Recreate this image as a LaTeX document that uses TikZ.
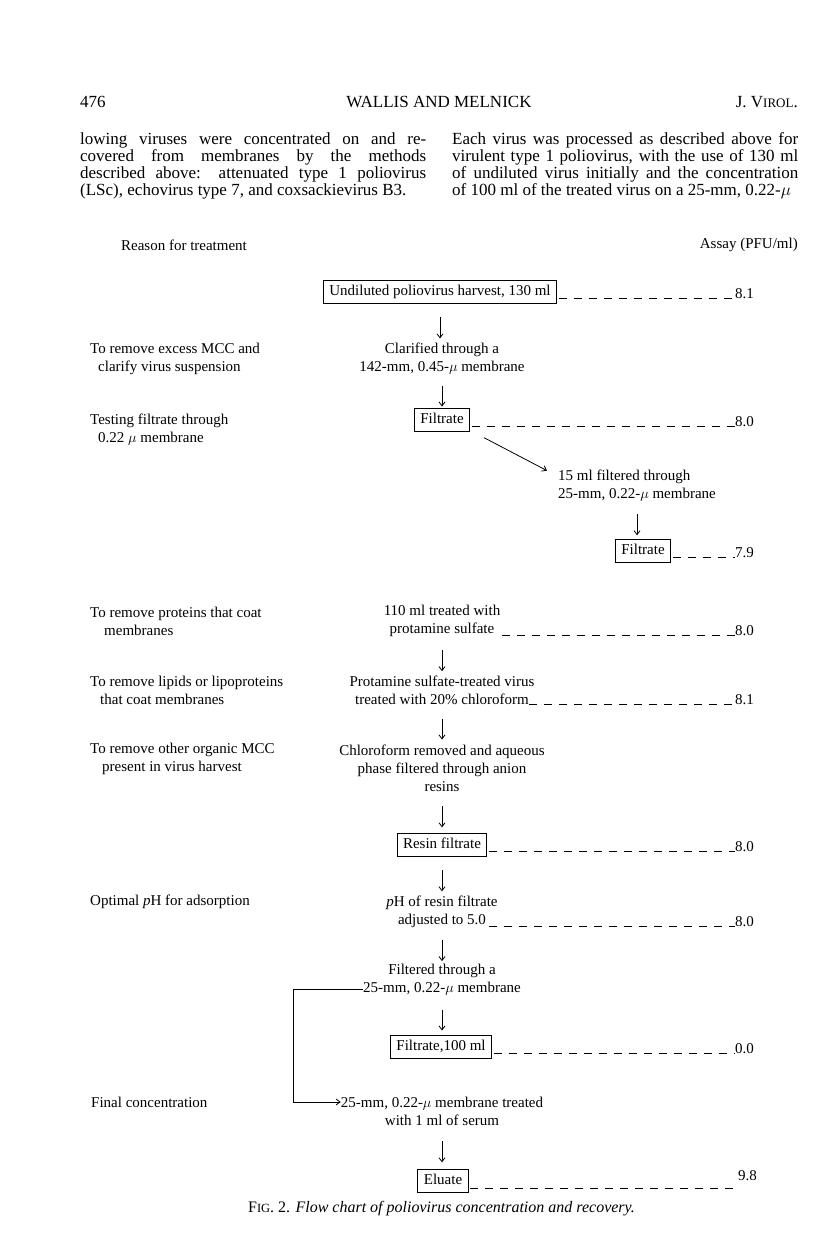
\documentclass[tikz,border=0pt]{standalone}
\usepackage{fontspec}
\setmainfont{Liberation Serif}
\usetikzlibrary{positioning,arrows.meta}

\begin{document}
\begin{tikzpicture}[x=1pt, y=-1pt,
    every node/.style={font=\fontsize{15}{18}\selectfont, inner sep=0pt},
    stepbox/.style={draw, line width=1pt, inner xsep=6pt, inner ysep=4pt, text height=11pt, text depth=3.5pt},
    ctr/.style={align=center},
    rsn/.style={anchor=west, align=left},
    val/.style={anchor=base west},
    body/.style={anchor=north west, text width=346pt, align=justify, font=\fontsize{17}{17}\selectfont},
    dl/.style={line width=0.8pt, dash pattern=on 8pt off 7pt, shorten <=1.5pt},
    dn/.style={line width=0.8pt, -{Straight Barb[length=4pt,width=6pt]}}
]
    \useasboundingbox (0,0) rectangle (816,1235);

    % page head and running text
    \node[anchor=base west, font=\fontsize{17}{17}\selectfont] (pg) at (80,107) {476};
    \node[anchor=base, font=\fontsize{17}{17}\selectfont] (auth) at (439,107) {WALLIS AND MELNICK};
    \node[anchor=base east, font=\fontsize{17}{17}\selectfont] (jrn) at (798,107) {J. V{\fontsize{13}{13}\selectfont IROL}.};
    \node[body] (colL) at (80,132.4) {\tolerance=10000 \parfillskip=0pt \noindent lowing viruses were concentrated on and re-\linebreak covered from membranes by the methods\linebreak described above: attenuated type 1 poliovirus\linebreak (LSc), echovirus type 7, and coxsackievirus B3.};
    \node[body] (colR) at (452,132.4) {\tolerance=10000 \parfillskip=0pt \noindent Each virus was processed as described above for\linebreak virulent type 1 poliovirus, with the use of 130 ml\linebreak of undiluted virus initially and the concentration\linebreak of 100 ml of the treated virus on a 25-mm, 0.22-$\mu$};

    \node (hdl) at (184,245) {Reason for treatment};
    \node[anchor=east] (hdr) at (798,245) {Assay (PFU/ml)};

    % steps
    \node[stepbox] (b1) at (440,292) {Undiluted poliovirus harvest, 130 ml};
    \node[ctr] (t1) at (442,359) {Clarified through a\\142-mm, 0.45-$\mu$ membrane};
    \node[stepbox] (b2) at (442,420) {Filtrate};
    \node[anchor=west, align=left] (t2) at (558,485.5) {15 ml filtered through\\25-mm, 0.22-$\mu$ membrane};
    \node[stepbox] (b3) at (643,551) {Filtrate};
    \node[ctr] (t3) at (442,621) {110 ml treated with\\protamine sulfate};
    \node[ctr] (t4) at (442,690) {Protamine sulfate-treated virus\\treated with 20\% chloroform};
    \node[ctr] (t5) at (442,768) {Chloroform removed and aqueous\\phase filtered through anion\\resins};
    \node[stepbox] (b4) at (442,845) {Resin filtrate};
    \node[ctr] (t6) at (442,912) {\textit{p}H of resin filtrate\\adjusted to 5.0};
    \node[ctr] (t7) at (442,980) {Filtered through a\\25-mm, 0.22-$\mu$ membrane};
    \node[stepbox] (b5) at (441,1047) {Filtrate,100 ml};
    \node[ctr] (t8) at (442,1111) {25-mm, 0.22-$\mu$ membrane treated\\with 1 ml of serum};
    \node[stepbox] (b6) at (443,1181) {Eluate};

    % reasons
    \node[rsn] (r1) at (90,359) {To remove excess MCC and\\\hspace*{8pt}clarify virus suspension};
    \node[rsn] (r2) at (90,429.5) {Testing filtrate through\\\hspace*{8pt}0.22 $\mu$ membrane};
    \node[rsn] (r3) at (90,621) {To remove proteins that coat\\\hspace*{14pt}membranes};
    \node[rsn] (r4) at (90,690) {To remove lipids or lipoproteins\\\hspace*{10pt}that coat membranes};
    \node[rsn] (r5) at (90,759) {To remove other organic MCC\\\hspace*{12pt}present in virus harvest};
    \node[rsn] (r6) at (90,902) {Optimal \textit{p}H for adsorption};
    \node[rsn] (r7) at (91,1102) {Final concentration};

    % assay readings
    \foreach \v/\px/\py/\a in {v1/735/298/8.1, v2/735/426/8.0, v3/735/557/7.9, v4/735/635/8.0, v5/735/704/8.1, v6/735/851/8.0, v7/735/926/8.0, v8/735/1053/0.0, v9/738/1180/9.8}
        \node[val] (\v) at (\px,\py) {\a};
    \foreach \n/\v/\o in {b1/v1/0, b2/v2/0, b3/v3/0, t3/v4/0, t4/v5/-7, b4/v6/0, t6/v7/-10, b5/v8/0}
        \draw[dl] ([xshift=\o pt]\n.east |- \v.base) -- (\v.base west);
    \coordinate (e9) at (733,1188);
    \draw[dl] (b6.east |- e9) -- (e9);

    \foreach \a/\b in {b1/t1, t1/b2, t2/b3, t3/t4, t4/t5, t5/b4, b4/t6, t6/t7, t7/b5, t8/b6} {
        \path (\a.south) -- (\a.south |- \b.north) coordinate[midway] (m);
        \draw[dn] ([yshift=6pt]m) -- ([yshift=-15pt]m);
    }
    \draw[dn] ([xshift=14pt,yshift=-6pt]b2.south east) -- ([xshift=-11pt,yshift=-1pt]t2.north west);

    % side branch to the membrane
    \coordinate (brk) at (293,1000);
    \coordinate (bt) at ([yshift=-9pt]t7.west);
    \coordinate (bb) at ([yshift=9pt]t8.west);
    \draw[dn] (bt) -- (bt -| brk) |- (bb);

    \node[font=\fontsize{16}{16}\selectfont] (cap) at (441.5,1209) {F{\fontsize{12.5}{12.5}\selectfont IG}. 2. \textit{Flow chart of poliovirus concentration and recovery.}};
\end{tikzpicture}
\end{document}
